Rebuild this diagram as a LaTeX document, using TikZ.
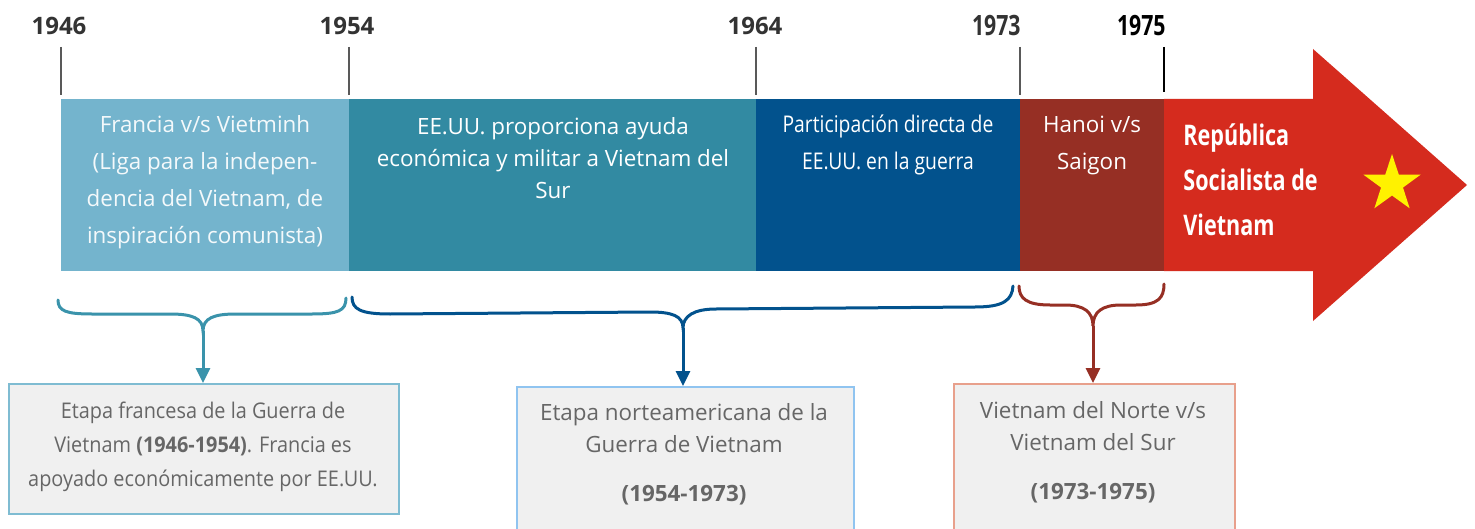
\documentclass[tikz,border=0pt]{standalone}
\usepackage{fontspec}
\setmainfont{Open Sans}
\newfontfamily\condfont[FakeStretch=0.84]{Open Sans}
\newfontfamily\semicond[FakeStretch=0.92]{Open Sans}
\newfontfamily\bcondfont[FakeStretch=0.76]{Open Sans}
\usetikzlibrary{shapes.geometric,arrows.meta}
\definecolor{segA}{HTML}{74B4CD}
\definecolor{segB}{HTML}{328AA2}
\definecolor{segC}{HTML}{02528D}
\definecolor{segD}{HTML}{962F24}
\definecolor{vred}{HTML}{D52B1E}
\definecolor{vyellow}{HTML}{FFF200}
\definecolor{yeargray}{HTML}{333333}
\definecolor{tickgray}{HTML}{595959}
\definecolor{braceA}{HTML}{3A93AB}
\definecolor{boxfill}{HTML}{F0F0F0}
\definecolor{boxtxt}{HTML}{666666}
\definecolor{borderA}{HTML}{7FBCD2}
\definecolor{borderB}{HTML}{90C4F0}
\definecolor{borderC}{HTML}{E8A08C}
\begin{document}
\begin{tikzpicture}[x=0.5pt,y=-0.5pt,
  yearlbl/.style={inner sep=0, text=yeargray, font=\bfseries\fontsize{12}{14}\selectfont},
  tickline/.style={draw=tickgray, line width=0.7pt},
  segtext/.style={inner sep=0, align=center, text=white},
  bracepath/.style={line width=1.5pt, line cap=round},
  stem/.style={line width=1.5pt, -{Triangle[width=7pt,length=7.5pt]}},
  boxnode/.style={draw, fill=boxfill, line width=1pt, inner sep=0, anchor=north west},
  boxtext/.style={inner sep=0, align=center, text=boxtxt}]
\path[use as bounding box, clip] (0,0) rectangle (1475,529);
\fill[white] (0,0) rectangle (1475,529);
% years
\node[yearlbl] (y1) at (59,26) {1946};
\node[yearlbl] (y2) at (347,26) {1954};
\node[yearlbl] (y3) at (755,26) {1964};
\node[yearlbl, font=\bcondfont\bfseries\fontsize{14}{16}\selectfont, anchor=east] (y4) at (1021,26) {1973};
\node[yearlbl, text=black, font=\bcondfont\bfseries\fontsize{14}{16}\selectfont, anchor=east] (y5) at (1166,26) {1975};
% ticks
\draw[tickline] (61,47) -- (61,95);
\draw[tickline] (349,47) -- (349,95);
\draw[tickline] (756,47) -- (756,95);
\draw[tickline] (1020,47) -- (1020,95);
\draw[line width=1pt, black] (1164,47) -- (1164,92);
% red arrow
\fill[vred] (1164,99) -- (1313,99) -- (1313,49) -- (1467,185) -- (1313,321) -- (1313,271) -- (1164,271) -- cycle;
% segments
\fill[segA] (61,99) rectangle (349,271);
\fill[segB] (349,99) rectangle (756,271);
\fill[segC] (756,99) rectangle (1020,271);
\fill[segD] (1020,99) rectangle (1164,271);
% segment texts
\node[segtext, text=white!92!segA, font=\fontsize{11.2}{18.5}\selectfont] (t1) at (205,182)
  {Francia v/s Vietminh\\(Liga para la indepen-\\dencia del Vietnam, de\\inspiración comunista)};
\node[segtext, font=\fontsize{11.2}{16}\selectfont] (t2) at (553,158.5)
  {EE.UU. proporciona ayuda\\económica y militar a Vietnam del\\Sur};
\node[segtext, font=\condfont\fontsize{11.5}{18.5}\selectfont] (t3) at (888,145)
  {Participación directa de\\EE.UU. en la guerra};
\node[segtext, font=\fontsize{11.2}{18.5}\selectfont] (t4) at (1092,145)
  {Hanoi v/s\\Saigon};
\node[segtext, align=left, anchor=west, font=\bcondfont\bfseries\fontsize{14.2}{22.5}\selectfont] (t5) at (1183,180)
  {República\\Socialista de\\Vietnam};
\node[star, star points=5, star point ratio=2.6, fill=vyellow, minimum size=30pt, inner sep=0] (st) at (1392,184) {};
% boxes
\node[boxnode, draw=borderA, minimum width=195pt, minimum height=65pt] (b1) at (8,383) {};
\node[boxnode, draw=borderB, minimum width=168.5pt, minimum height=80pt] (b2) at (516,386) {};
\node[boxnode, draw=borderC, minimum width=140.5pt, minimum height=80pt] (b3) at (953,383) {};
\node[boxtext, font=\semicond\fontsize{10.8}{17}\selectfont] (bt1) at (203,447)
  {Etapa francesa de la Guerra de\\Vietnam \textbf{(1946-1954)}. Francia es\\apoyado económicamente por EE.UU.};
\node[boxtext, font=\fontsize{11.2}{16}\selectfont] (bt2) at (684,454)
  {Etapa norteamericana de la\\Guerra de Vietnam\\[8.5pt]\textbf{(1954-1973)}};
\node[boxtext, font=\fontsize{11.2}{16}\selectfont] (bt3) at (1093,452)
  {Vietnam del Norte v/s\\Vietnam del Sur\\[8.5pt]\textbf{(1973-1975)}};
% braces
\coordinate (c1) at (203,331);
\coordinate (c2) at (683,328);
\coordinate (c3) at (1093,326);
\draw[bracepath, braceA] (58,300) .. controls (58,311) and (66,314) .. (92,314)
  -- (170,314) .. controls (192,314) and (203,318) .. (c1)
  .. controls (203,318) and (214,314) .. (236,314)
  -- (312,314) .. controls (338,314) and (346,311) .. (346,298);
\draw[bracepath, segC] (352,297) .. controls (352,309) and (360,314) .. (390,314)
  -- (650,312) .. controls (672,312) and (683,316) .. (c2)
  .. controls (683,316) and (694,309) .. (716,309)
  -- (975,307) .. controls (1004,307) and (1012,300) .. (1013,286);
\draw[bracepath, segD] (1019,286) .. controls (1019,298) and (1026,305) .. (1050,305)
  -- (1065,305) .. controls (1084,305) and (1093,312) .. (c3)
  .. controls (1093,312) and (1102,305) .. (1121,305)
  -- (1136,305) .. controls (1158,305) and (1164,298) .. (1164,284);
\draw[stem, braceA] (c1) -- (b1.north -| c1);
\draw[stem, segC] (c2) -- (b2.north -| c2);
\draw[stem, segD] (c3) -- (b3.north -| c3);
\end{tikzpicture}
\end{document}
